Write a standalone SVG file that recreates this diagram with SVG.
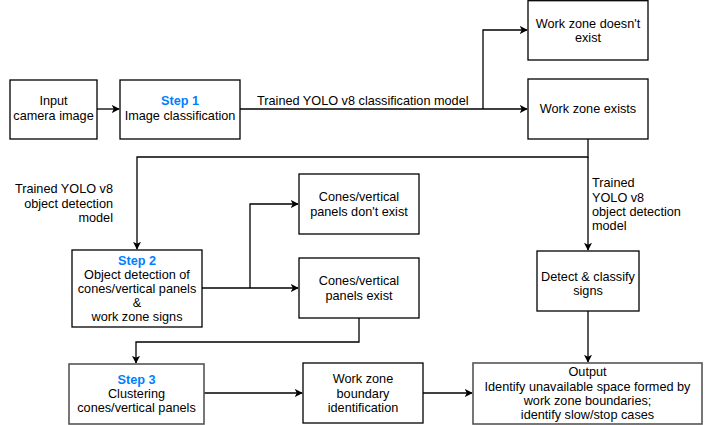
<svg xmlns="http://www.w3.org/2000/svg" width="705" height="425" viewBox="0 0 705 425">
<defs>
<style>
.box{fill:#fff;stroke:#000;stroke-width:1.3}
.gbox{fill:#fff;stroke:#555;stroke-width:1.6}
text{font-family:"Liberation Sans",Arial,sans-serif;font-size:12.7px;fill:#000}
.c{text-anchor:middle}
.step{fill:#007FFF;font-weight:bold}
.edge{fill:none;stroke:#000;stroke-width:1.3}
</style>
<marker id="arr" viewBox="0 0 10 10" refX="9" refY="5" markerWidth="8" markerHeight="8" markerUnits="userSpaceOnUse" orient="auto">
<path d="M0,0 L10,5 L0,10 L2.5,5 z" fill="#000"/>
</marker>
</defs>
<rect width="705" height="425" fill="#fff"/>
<g id="connectors">
<path class="edge" d="M97,109 H119" marker-end="url(#arr)"/>
<path class="edge" d="M240,109 H527" marker-end="url(#arr)"/>
<path class="edge" d="M483,109 V30 H527" marker-end="url(#arr)"/>
<path class="edge" d="M588,139 V157 H137 V249" marker-end="url(#arr)"/>
<path class="edge" d="M588,157 V250" marker-end="url(#arr)"/>
<path class="edge" d="M202,288 H298" marker-end="url(#arr)"/>
<path class="edge" d="M250,288 V204 H298" marker-end="url(#arr)"/>
<path class="edge" d="M359,318 V342 H136 V363" marker-end="url(#arr)"/>
<path class="edge" d="M588,311 V362" marker-end="url(#arr)"/>
<path class="edge" d="M204,393 H302" marker-end="url(#arr)"/>
<path class="edge" d="M423,393 H472" marker-end="url(#arr)"/>
<text x="257" y="105">Trained YOLO v8 classification model</text>
<text x="113" y="193" text-anchor="end">Trained YOLO v8</text>
<text x="113" y="207.5" text-anchor="end">object detection</text>
<text x="113" y="222" text-anchor="end">model</text>
<text x="592" y="187">Trained</text>
<text x="592" y="201.5">YOLO v8</text>
<text x="592" y="215.5">object detection</text>
<text x="592" y="230">model</text>
</g>
<g id="input">
<rect class="box" x="10" y="80" width="87" height="59"/>
<text class="c" x="53.5" y="105">Input</text>
<text class="c" x="53.5" y="120">camera image</text>
</g>
<g id="step1">
<rect class="box" x="120" y="80" width="120" height="59"/>
<text class="c step" x="180" y="105">Step 1</text>
<text class="c" x="180" y="120">Image classification</text>
</g>
<g id="wz-not">
<rect class="box" x="528" y="0.7" width="120" height="59.3"/>
<text class="c" x="588" y="27.5">Work zone doesn't</text>
<text class="c" x="588" y="42">exist</text>
</g>
<g id="wz-exists">
<rect class="box" x="528" y="79" width="120" height="60"/>
<text class="c" x="588" y="112.5">Work zone exists</text>
</g>
<g id="step2">
<rect class="box" x="72" y="250" width="130" height="77"/>
<text class="c step" x="137" y="265">Step 2</text>
<text class="c" x="137" y="279">Object detection of</text>
<text class="c" x="137" y="293">cones/vertical panels</text>
<text class="c" x="137" y="307">&amp;</text>
<text class="c" x="137" y="321">work zone signs</text>
</g>
<g id="cones-no">
<rect class="box" x="299" y="174" width="120" height="60"/>
<text class="c" x="359" y="201">Cones/vertical</text>
<text class="c" x="359" y="215.5">panels don't exist</text>
</g>
<g id="cones-yes">
<rect class="box" x="299" y="258" width="120" height="60"/>
<text class="c" x="359" y="285">Cones/vertical</text>
<text class="c" x="359" y="300">panels exist</text>
</g>
<g id="detect">
<rect class="box" x="537" y="251" width="102" height="60"/>
<text class="c" x="588" y="280.5">Detect &amp; classify</text>
<text class="c" x="588" y="294.5">signs</text>
</g>
<g id="step3">
<rect class="gbox" x="69" y="364" width="135" height="60"/>
<text class="c step" x="136.5" y="384">Step 3</text>
<text class="c" x="136.5" y="398">Clustering</text>
<text class="c" x="136.5" y="412">cones/vertical panels</text>
</g>
<g id="boundary">
<rect class="box" x="303" y="363" width="120" height="60"/>
<text class="c" x="363" y="383">Work zone</text>
<text class="c" x="363" y="397.5">boundary</text>
<text class="c" x="363" y="412">identification</text>
</g>
<g id="output">
<rect class="gbox" x="473" y="363" width="229" height="61"/>
<text class="c" x="587.5" y="376">Output</text>
<text class="c" x="587.5" y="390.5">Identify unavailable space formed by</text>
<text class="c" x="587.5" y="405">work zone boundaries;</text>
<text class="c" x="587.5" y="419">identify slow/stop cases</text>
</g>
</svg>
